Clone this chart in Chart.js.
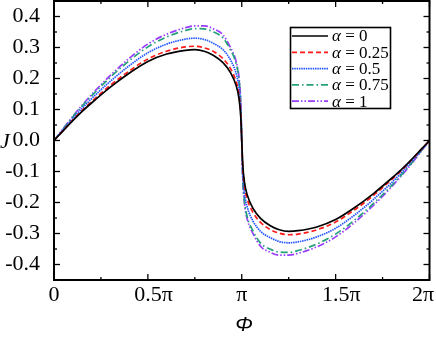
<!DOCTYPE html>
<html><head><meta charset="utf-8">
<script src="https://cdn.jsdelivr.net/npm/chart.js@4.4.0/dist/chart.umd.min.js"></script>
<style>html,body{margin:0;padding:0;background:#fff}#wrap{width:436px;height:340px}</style>
</head><body><div id="wrap"><canvas id="c" width="436" height="340"></canvas></div>
<script>
// phase in units of pi
const phi = [0, 0.05, 0.1, 0.15, 0.2, 0.3, 0.4, 0.5, 0.6, 0.7, 0.75, 0.8, 0.85, 0.9, 0.94, 0.97, 0.985, 0.995, 1.0,
             1.005, 1.015, 1.03, 1.06, 1.1, 1.15, 1.2, 1.25, 1.3, 1.4, 1.5, 1.6, 1.7, 1.8, 1.85, 1.9, 1.95, 2.0];
const J_a0 = [0, 0.032, 0.064, 0.094, 0.121, 0.172, 0.217, 0.255, 0.279, 0.291, 0.293, 0.288, 0.274, 0.251, 0.219, 0.177, 0.137, 0.074, 0,
             -0.074, -0.137, -0.177, -0.219, -0.251, -0.274, -0.288, -0.293, -0.291, -0.279, -0.255, -0.217, -0.172, -0.121, -0.094, -0.064, -0.032, 0];
const J_a025 = [0, 0.033, 0.066, 0.097, 0.125, 0.178, 0.224, 0.263, 0.288, 0.302, 0.304, 0.299, 0.287, 0.264, 0.232, 0.190, 0.148, 0.083, 0,
             -0.083, -0.148, -0.190, -0.232, -0.264, -0.287, -0.299, -0.304, -0.302, -0.288, -0.263, -0.224, -0.178, -0.125, -0.097, -0.066, -0.033, 0];
const J_a05 = [0, 0.036, 0.071, 0.104, 0.135, 0.191, 0.241, 0.283, 0.311, 0.327, 0.330, 0.326, 0.313, 0.293, 0.260, 0.216, 0.171, 0.098, 0,
             -0.098, -0.171, -0.216, -0.260, -0.293, -0.313, -0.326, -0.330, -0.327, -0.311, -0.283, -0.241, -0.191, -0.135, -0.104, -0.071, -0.036, 0];
const J_a075 = [0, 0.038, 0.076, 0.111, 0.144, 0.204, 0.257, 0.302, 0.334, 0.355, 0.361, 0.360, 0.350, 0.331, 0.292, 0.248, 0.198, 0.115, 0,
             -0.115, -0.198, -0.248, -0.292, -0.331, -0.350, -0.360, -0.361, -0.355, -0.334, -0.302, -0.257, -0.204, -0.144, -0.111, -0.076, -0.038, 0];
const J_a1 = [0, 0.039, 0.078, 0.114, 0.148, 0.210, 0.265, 0.311, 0.343, 0.364, 0.370, 0.370, 0.360, 0.341, 0.300, 0.255, 0.205, 0.120, 0,
             -0.120, -0.205, -0.255, -0.300, -0.341, -0.360, -0.370, -0.370, -0.364, -0.343, -0.311, -0.265, -0.210, -0.148, -0.114, -0.078, -0.039, 0];
const seriesLabels = ['α = 0', 'α = 0.25', 'α = 0.5', 'α = 0.75', 'α = 1'];
const xTickValues = [0, 0.5, 1, 1.5, 2];
const xTickLabels = ['0', '0.5π', 'π', '1.5π', '2π'];
const yTickValues = [0.4, 0.3, 0.2, 0.1, 0.0, -0.1, -0.2, -0.3, -0.4];
const yTickLabels = ['0.4', '0.3', '0.2', '0.1', '0.0', '-0.1', '-0.2', '-0.3', '-0.4'];
const xTitle = 'Φ';
const yTitle = 'J';

const seriesValues = [J_a0, J_a025, J_a05, J_a075, J_a1];
const styles = [
  {color: '#000000', dash: []},
  {color: '#ff1a1a', dash: [5, 3]},
  {color: '#2255ff', dash: [1.5, 0.8]},
  {color: '#24a07a', dash: [7, 3, 1.5, 3]},
  {color: '#9a3cff', dash: [7, 2, 1.5, 2, 1.5, 2]}
];
const datasets = seriesValues.map((vals, i) => ({
  label: seriesLabels[i],
  data: phi.map((p, k) => ({x: p, y: vals[k]})),
  borderColor: styles[i].color,
  borderDash: styles[i].dash,
  borderWidth: 1.7,
  pointRadius: 0,
  fill: false,
  cubicInterpolationMode: 'monotone'
}));

const serif = "'Liberation Serif', 'Times New Roman', serif";
const decor = {
  id: 'decor',
  afterDraw(chart) {
    const ctx = chart.ctx, ca = chart.chartArea;
    const xs = chart.scales.x, ys = chart.scales.y;
    ctx.save();
    ctx.strokeStyle = '#000';
    ctx.lineWidth = 2;
    ctx.setLineDash([]);
    ctx.strokeRect(ca.left, ca.top, ca.right - ca.left, ca.bottom - ca.top);
    ctx.lineWidth = 1.3;
    const line = (x1, y1, x2, y2) => { ctx.beginPath(); ctx.moveTo(x1, y1); ctx.lineTo(x2, y2); ctx.stroke(); };
    // x ticks
    xTickValues.forEach((v, i) => {
      const px = xs.getPixelForValue(v);
      line(px, ca.bottom, px, ca.bottom - 6); line(px, ca.top, px, ca.top + 6);
      if (i < xTickValues.length - 1) {
        const pm = xs.getPixelForValue((v + xTickValues[i + 1]) / 2);
        line(pm, ca.bottom, pm, ca.bottom - 3); line(pm, ca.top, pm, ca.top + 3);
      }
    });
    // y ticks
    const yMinor = yTickValues.map(v => v + 0.05).concat([yTickValues[yTickValues.length - 1] - 0.05]);
    yTickValues.forEach(v => {
      const py = ys.getPixelForValue(v);
      line(ca.left, py, ca.left + 6, py); line(ca.right, py, ca.right - 6, py);
    });
    yMinor.forEach(v => {
      const py = ys.getPixelForValue(v);
      line(ca.left, py, ca.left + 3, py); line(ca.right, py, ca.right - 3, py);
    });
    // x tick labels
    ctx.fillStyle = '#000';
    ctx.font = '22px ' + serif;
    ctx.textAlign = 'left';
    ctx.textBaseline = 'alphabetic';
    xTickValues.forEach((v, i) => {
      const lab = xTickLabels[i];
      const prefix = lab.replace(/π$/, '');
      const px = xs.getPixelForValue(v);
      const wFull = ctx.measureText(lab).width;
      const wPre = prefix.length ? ctx.measureText(prefix).width : wFull;
      let x0 = px - wPre / 2;
      if (x0 + wFull > chart.width - 2) x0 = chart.width - 2 - wFull;
      ctx.fillText(lab, x0, 301);
    });
    // axis titles
    ctx.textAlign = 'left';
    ctx.font = 'italic 22px ' + serif;
    ctx.fillText(yTitle, 0, 148);
    ctx.textAlign = 'center';
    ctx.font = "italic 21px 'Liberation Sans', Arial, sans-serif";
    ctx.fillText(xTitle, 244, 331);
    // legend
    const lx = 290.5, ly = 27.5, lw = 100, lh = 81;
    ctx.fillStyle = '#fff';
    ctx.fillRect(lx, ly, lw, lh);
    ctx.lineWidth = 1.6;
    ctx.strokeStyle = '#000';
    ctx.strokeRect(lx, ly, lw, lh);
    chart.data.datasets.forEach((ds, i) => {
      const y = 36 + i * 16.3;
      ctx.strokeStyle = ds.borderColor;
      ctx.setLineDash(ds.borderDash);
      ctx.lineWidth = 1.7;
      line(292, y, 328, y);
      ctx.setLineDash([]);
      ctx.fillStyle = '#000';
      ctx.textAlign = 'left';
      ctx.textBaseline = 'middle';
      const lab = ds.label;
      ctx.font = 'italic 17px ' + serif;
      ctx.fillText(lab[0], 332, y + 1);
      const w = ctx.measureText(lab[0]).width;
      ctx.font = '17px ' + serif;
      ctx.fillText(lab.slice(1), 332 + w, y + 1);
    });
    ctx.restore();
  }
};

new Chart(document.getElementById('c'), {
  type: 'line',
  data: {datasets},
  options: {
    responsive: false,
    animation: false,
    devicePixelRatio: 1,
    layout: {padding: {left: 0, right: 6.5, top: 1, bottom: 0}},
    plugins: {legend: {display: false}, tooltip: {enabled: false}},
    scales: {
      x: {
        type: 'linear', min: 0, max: 2,
        grid: {display: false}, border: {display: false},
        ticks: {display: false},
        afterBuildTicks: s => { s.ticks = xTickValues.map(v => ({value: v})); },
        afterFit: s => { s.height = 60; s.paddingLeft = 0; s.paddingRight = 0; }
      },
      y: {
        type: 'linear', min: -0.45, max: 0.45,
        grid: {display: false}, border: {display: false},
        ticks: {
          color: '#000', padding: 6,
          font: {family: 'Liberation Serif', size: 22},
          callback: (v) => yTickLabels[yTickValues.findIndex(t => Math.abs(t - v) < 1e-9)]
        },
        afterBuildTicks: s => { s.ticks = yTickValues.map(v => ({value: v})); },
        afterFit: s => { s.width = 54; s.paddingTop = 0; s.paddingBottom = 0; }
      }
    }
  },
  plugins: [decor]
});
</script></body></html>
